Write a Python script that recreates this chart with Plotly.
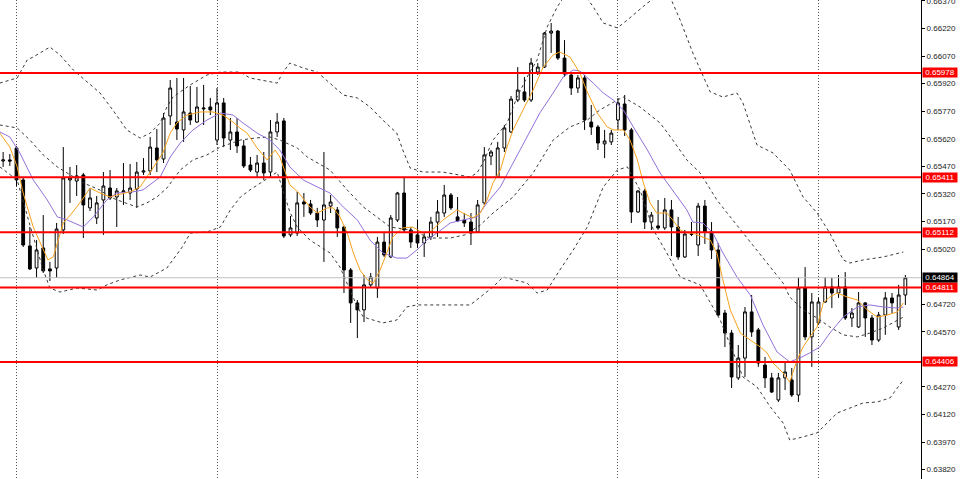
import plotly.graph_objects as go

# ---------------- data ----------------
bars = list(range(136))

opens = [0.65499, 0.65505, 0.65570, 0.65396, 0.65037, 0.64917, 0.65026, 0.64912, 0.64917, 0.65124,
         0.65396, 0.65390, 0.65423, 0.65244, 0.65189, 0.65287, 0.65352, 0.65303, 0.65331, 0.65325,
         0.65347, 0.65439, 0.65445, 0.65570, 0.65510, 0.65744, 0.65711, 0.65668, 0.65760, 0.65711,
         0.65782, 0.65793, 0.65613, 0.65815, 0.65613, 0.65657, 0.65581, 0.65477, 0.65439, 0.65488,
         0.65439, 0.65657, 0.65717, 0.65097, 0.65107, 0.65276, 0.65265, 0.65216, 0.65178, 0.65254,
         0.65233, 0.65140, 0.64906, 0.64727, 0.64689, 0.64825, 0.64808, 0.65058, 0.64977, 0.65178,
         0.65325, 0.65124, 0.65097, 0.65053, 0.65086, 0.65167, 0.65216, 0.65314, 0.65195, 0.65178,
         0.65167, 0.65113, 0.65271, 0.65526, 0.65412, 0.65570, 0.65657, 0.65831, 0.65875, 0.65831,
         0.65983, 0.66010, 0.66195, 0.66206, 0.66059, 0.65967, 0.65896, 0.65951, 0.65711, 0.65684,
         0.65592, 0.65603, 0.65722, 0.65809, 0.65668, 0.65222, 0.65336, 0.65167, 0.65146, 0.65135,
         0.65233, 0.65140, 0.64977, 0.65102, 0.65042, 0.65254, 0.65113, 0.65015, 0.64672, 0.64563,
         0.64319, 0.64427, 0.64678, 0.64580, 0.64389, 0.64319, 0.64199, 0.64319, 0.64308, 0.64226,
         0.64808, 0.64542, 0.64618, 0.64732, 0.64814, 0.64781, 0.64814, 0.64645, 0.64596, 0.64727,
         0.64645, 0.64525, 0.64661, 0.64754, 0.64596, 0.64770]

highs = [0.65548, 0.65537, 0.65581, 0.65407, 0.65140, 0.65069, 0.65205, 0.64950, 0.65162, 0.65575,
         0.65467, 0.65477, 0.65434, 0.65352, 0.65309, 0.65439, 0.65450, 0.65352, 0.65488, 0.65483,
         0.65494, 0.65515, 0.65630, 0.65673, 0.65760, 0.65940, 0.65951, 0.65951, 0.65907, 0.65902,
         0.65913, 0.65842, 0.65896, 0.65842, 0.65733, 0.65733, 0.65613, 0.65521, 0.65532, 0.65548,
         0.65722, 0.65760, 0.65733, 0.65200, 0.65331, 0.65325, 0.65287, 0.65244, 0.65548, 0.65314,
         0.65249, 0.65146, 0.64917, 0.64743, 0.64879, 0.64890, 0.65086, 0.65107, 0.65205, 0.65331,
         0.65407, 0.65140, 0.65178, 0.65107, 0.65195, 0.65287, 0.65369, 0.65325, 0.65303, 0.65216,
         0.65216, 0.65287, 0.65575, 0.65559, 0.65603, 0.65695, 0.65853, 0.66010, 0.65956, 0.66059,
         0.66032, 0.66201, 0.66250, 0.66212, 0.66157, 0.65983, 0.65967, 0.65967, 0.65804, 0.65695,
         0.65668, 0.65668, 0.65842, 0.65858, 0.65679, 0.65341, 0.65347, 0.65222, 0.65287, 0.65298,
         0.65287, 0.65195, 0.65124, 0.65167, 0.65271, 0.65287, 0.65167, 0.65053, 0.64689, 0.64580,
         0.64498, 0.64705, 0.64770, 0.64591, 0.64433, 0.64346, 0.64346, 0.64406, 0.64373, 0.64868,
         0.64922, 0.64781, 0.64754, 0.64868, 0.64863, 0.64879, 0.64895, 0.64699, 0.64786, 0.64732,
         0.64661, 0.64678, 0.64786, 0.64781, 0.64825, 0.64879]

lows = [0.65467, 0.65472, 0.65363, 0.65031, 0.64906, 0.64863, 0.64890, 0.64846, 0.64863, 0.65102,
        0.65271, 0.65309, 0.65080, 0.65227, 0.65156, 0.65097, 0.65287, 0.65140, 0.65260, 0.65287,
        0.65244, 0.65423, 0.65423, 0.65439, 0.65488, 0.65695, 0.65613, 0.65603, 0.65695, 0.65706,
        0.65695, 0.65749, 0.65586, 0.65575, 0.65559, 0.65543, 0.65461, 0.65439, 0.65407, 0.65396,
        0.65407, 0.65630, 0.65080, 0.65086, 0.65091, 0.65195, 0.65205, 0.65140, 0.64950, 0.65216,
        0.65086, 0.64781, 0.64618, 0.64536, 0.64623, 0.64814, 0.64754, 0.64977, 0.64971, 0.65167,
        0.65113, 0.65026, 0.65026, 0.64977, 0.65069, 0.65086, 0.65195, 0.65233, 0.65167, 0.65140,
        0.65042, 0.65107, 0.65260, 0.65477, 0.65412, 0.65548, 0.65651, 0.65820, 0.65820, 0.65820,
        0.65967, 0.66005, 0.66087, 0.66049, 0.65956, 0.65858, 0.65869, 0.65668, 0.65641, 0.65559,
        0.65515, 0.65586, 0.65668, 0.65635, 0.65162, 0.65216, 0.65129, 0.65124, 0.65124, 0.65124,
        0.64982, 0.64961, 0.64971, 0.65091, 0.64982, 0.65048, 0.64966, 0.64656, 0.64487, 0.64264,
        0.64308, 0.64324, 0.64542, 0.64379, 0.64264, 0.64237, 0.64188, 0.64253, 0.64215, 0.64188,
        0.64525, 0.64379, 0.64607, 0.64727, 0.64699, 0.64754, 0.64634, 0.64596, 0.64591, 0.64542,
        0.64498, 0.64515, 0.64553, 0.64672, 0.64580, 0.64716]

closes = [0.65505, 0.65499, 0.65396, 0.65042, 0.64912, 0.65015, 0.64901, 0.64901, 0.65129, 0.65407,
          0.65407, 0.65418, 0.65260, 0.65298, 0.65271, 0.65363, 0.65298, 0.65336, 0.65336, 0.65352,
          0.65439, 0.65445, 0.65575, 0.65505, 0.65733, 0.65896, 0.65673, 0.65766, 0.65722, 0.65793,
          0.65787, 0.65777, 0.65815, 0.65624, 0.65657, 0.65581, 0.65472, 0.65450, 0.65488, 0.65434,
          0.65657, 0.65711, 0.65091, 0.65135, 0.65271, 0.65265, 0.65216, 0.65178, 0.65260, 0.65276,
          0.65135, 0.64906, 0.64727, 0.64689, 0.64825, 0.64868, 0.65058, 0.64988, 0.65189, 0.65325,
          0.65124, 0.65058, 0.65053, 0.65086, 0.65167, 0.65222, 0.65314, 0.65244, 0.65173, 0.65162,
          0.65107, 0.65260, 0.65532, 0.65548, 0.65570, 0.65679, 0.65836, 0.65885, 0.65831, 0.66032,
          0.66010, 0.66195, 0.66206, 0.66059, 0.65972, 0.65896, 0.65951, 0.65722, 0.65684, 0.65597,
          0.65608, 0.65651, 0.65815, 0.65668, 0.65222, 0.65336, 0.65167, 0.65205, 0.65135, 0.65233,
          0.65140, 0.64977, 0.65102, 0.65100, 0.65254, 0.65113, 0.65015, 0.64661, 0.64563, 0.64324,
          0.64427, 0.64678, 0.64569, 0.64400, 0.64319, 0.64242, 0.64319, 0.64351, 0.64226, 0.64808,
          0.64542, 0.64732, 0.64732, 0.64814, 0.64781, 0.64814, 0.64645, 0.64672, 0.64727, 0.64645,
          0.64525, 0.64661, 0.64754, 0.64727, 0.64770, 0.64864]

# fast moving average (orange)
fast_x = [-0.5, 1.0, 2.1, 3.0, 4.5, 5.8, 6.7, 7.5, 8.2, 9.0, 10.3, 11.8, 13.0, 14.5, 16.0, 17.0, 19.0, 20.5,
          22.0, 23.9, 25.0, 26.0, 27.5, 29.5, 31.4, 32.9, 34.4, 35.4, 36.5, 38.0, 39.5, 40.7, 41.4, 42.9,
          44.1, 45.9, 47.0, 48.5, 49.4, 50.4, 51.5, 52.4, 53.4, 54.5, 55.4, 56.4, 57.4, 58.3, 59.8, 61.3,
          62.8, 63.9, 65.8, 67.9, 68.8, 70.3, 71.4, 72.4, 73.3, 74.4, 75.4, 76.3, 77.8, 79.3, 80.8, 82.3,
          83.3, 84.8, 86.3, 87.4, 88.9, 90.4, 91.3, 92.8, 93.8, 94.9, 95.8, 96.8, 97.8, 99.3, 100.2, 101.3,
          102.3, 103.2, 105.8, 106.8, 107.7, 108.8, 110.3, 111.8, 113.3, 114.3, 115.2, 116.7, 117.7, 118.8,
          119.7, 120.7, 121.8, 122.7, 123.7, 124.8, 126.3, 127.8, 129.3, 130.8, 132.3, 133.8, 134.7]
fast_y = [0.65651, 0.65575, 0.65467, 0.65325, 0.65140, 0.65031, 0.64961, 0.64977, 0.65069, 0.65162, 0.65216,
          0.65287, 0.65352, 0.65325, 0.65303, 0.65314, 0.65331, 0.65358, 0.65439, 0.65543, 0.65651, 0.65706,
          0.65749, 0.65766, 0.65766, 0.65749, 0.65711, 0.65679, 0.65651, 0.65570, 0.65505, 0.65559, 0.65521,
          0.65369, 0.65331, 0.65249, 0.65216, 0.65244, 0.65244, 0.65195, 0.65107, 0.64999, 0.64906, 0.64852,
          0.64835, 0.64906, 0.64999, 0.65086, 0.65135, 0.65140, 0.65107, 0.65113, 0.65178, 0.65233, 0.65216,
          0.65189, 0.65216, 0.65287, 0.65380, 0.65450, 0.65575, 0.65668, 0.65777, 0.65885, 0.66010, 0.66076,
          0.66092, 0.66065, 0.65978, 0.65875, 0.65760, 0.65684, 0.65668, 0.65668, 0.65613, 0.65505, 0.65380,
          0.65271, 0.65216, 0.65216, 0.65178, 0.65124, 0.65107, 0.65107, 0.65069, 0.64999, 0.64852, 0.64689,
          0.64563, 0.64525, 0.64487, 0.64455, 0.64400, 0.64346, 0.64297, 0.64417, 0.64487, 0.64542, 0.64596,
          0.64727, 0.64759, 0.64781, 0.64759, 0.64743, 0.64689, 0.64650, 0.64661, 0.64678, 0.64727]

# slow moving average (purple)
slow_x = [-0.5, 1.0, 2.5, 4.5, 6.6, 8.1, 9.6, 12.0, 13.5, 15.5, 17.0, 19.4, 20.9, 23.5, 25.0, 26.5, 28.4, 30.5,
          32.5, 34.4, 35.9, 38.0, 39.9, 41.4, 42.9, 44.9, 47.0, 48.9, 50.9, 53.0, 54.9, 56.8, 58.9, 60.4,
          61.9, 63.4, 64.9, 66.9, 68.8, 70.9, 72.4, 74.4, 76.3, 78.4, 80.3, 82.3, 83.8, 85.3, 86.3, 88.3,
          89.8, 91.3, 92.8, 94.3, 96.4, 98.3, 100.2, 102.3, 103.2, 104.7, 106.2, 107.7, 109.8, 111.8, 113.7,
          115.8, 117.7, 119.2, 120.7, 122.2, 123.7, 125.7, 127.8, 129.7, 131.7, 133.8, 134.7]
slow_y = [0.65657, 0.65630, 0.65543, 0.65396, 0.65287, 0.65195, 0.65178, 0.65140, 0.65195, 0.65287, 0.65325,
          0.65331, 0.65341, 0.65412, 0.65521, 0.65597, 0.65668, 0.65722, 0.65760, 0.65749, 0.65706, 0.65651,
          0.65613, 0.65559, 0.65467, 0.65396, 0.65358, 0.65325, 0.65249, 0.65178, 0.65069, 0.64999, 0.64971,
          0.64971, 0.65015, 0.65069, 0.65107, 0.65162, 0.65178, 0.65195, 0.65271, 0.65358, 0.65488, 0.65630,
          0.65760, 0.65869, 0.65956, 0.65994, 0.65989, 0.65923, 0.65869, 0.65831, 0.65777, 0.65684, 0.65559,
          0.65434, 0.65341, 0.65233, 0.65167, 0.65162, 0.65107, 0.64999, 0.64868, 0.64770, 0.64607, 0.64460,
          0.64406, 0.64427, 0.64455, 0.64487, 0.64563, 0.64650, 0.64705, 0.64716, 0.64705, 0.64699, 0.64705]

# Bollinger bands (upper / middle / lower)
bbu_x = [-0.5, 2.1, 3.6, 4.5, 7.0, 8.5, 10.5, 12.6, 14.5, 16.4, 18.5, 20.5, 22.0, 23.5, 24.5, 25.4, 28.0, 30.5,
         32.5, 35.5, 36.9, 41.0, 41.9, 42.9, 44.9, 47.0, 48.9, 50.9, 53.0, 54.9, 56.8, 58.9, 59.8, 60.9, 62.8,
         65.8, 69.9, 70.9, 71.8, 73.3, 75.4, 76.9, 78.4, 79.9, 81.4, 82.9, 84.4, 86.3, 88.3, 89.8, 91.9, 93.4,
         96.4, 98.3, 99.8, 101.3, 103.2, 104.3, 105.8, 107.7, 109.8, 110.7, 112.8, 115.2, 117.7, 119.7, 121.8,
         123.7, 125.7, 126.7, 128.7, 131.7, 134.7]
bbu_y = [0.65923, 0.65951, 0.66049, 0.66065, 0.66119, 0.66076, 0.65994, 0.65929, 0.65869, 0.65777, 0.65668,
         0.65624, 0.65651, 0.65706, 0.65793, 0.65847, 0.65913, 0.65967, 0.65983, 0.65983, 0.65951, 0.65923,
         0.65983, 0.66032, 0.66005, 0.65983, 0.65923, 0.65858, 0.65842, 0.65793, 0.65722, 0.65651, 0.65559,
         0.65461, 0.65439, 0.65439, 0.65412, 0.65434, 0.65488, 0.65613, 0.65706, 0.65847, 0.65956, 0.66049,
         0.66228, 0.66337, 0.66419, 0.66440, 0.66337, 0.66250, 0.66223, 0.66266, 0.66359, 0.66402, 0.66391,
         0.66266, 0.66087, 0.65994, 0.65875, 0.65847, 0.65869, 0.65815, 0.65586, 0.65543, 0.65450, 0.65303,
         0.65216, 0.65107, 0.64961, 0.64944, 0.64961, 0.64977, 0.65004]

bbm_x = [-0.5, 2.1, 4.0, 6.0, 8.1, 9.6, 12.0, 14.5, 16.0, 17.9, 20.0, 21.5, 23.0, 24.5, 26.5, 28.4, 30.5, 32.5,
         35.5, 37.7, 39.9, 41.4, 44.0, 45.5, 48.9, 51.5, 53.9, 55.9, 57.9, 60.9, 63.9, 66.9, 69.1, 71.4, 73.3,
         76.3, 79.3, 82.3, 84.8, 87.4, 89.3, 91.9, 92.8, 95.3, 98.3, 100.2, 102.3, 104.3, 106.8, 108.8, 110.7,
         112.8, 114.8, 116.7, 117.7, 119.7, 121.8, 123.7, 125.7, 127.8, 129.7, 131.7, 134.7]
bbm_y = [0.65695, 0.65679, 0.65613, 0.65532, 0.65467, 0.65434, 0.65380, 0.65341, 0.65303, 0.65276, 0.65249,
         0.65271, 0.65303, 0.65352, 0.65450, 0.65505, 0.65532, 0.65575, 0.65613, 0.65624, 0.65630, 0.65613,
         0.65570, 0.65521, 0.65450, 0.65341, 0.65249, 0.65195, 0.65140, 0.65124, 0.65080, 0.65080, 0.65097,
         0.65151, 0.65216, 0.65303, 0.65434, 0.65613, 0.65684, 0.65722, 0.65777, 0.65831, 0.65847, 0.65793,
         0.65706, 0.65613, 0.65505, 0.65434, 0.65287, 0.65195, 0.65107, 0.65015, 0.64922, 0.64835, 0.64759,
         0.64689, 0.64645, 0.64596, 0.64553, 0.64542, 0.64563, 0.64591, 0.64650]

bbl_x = [-0.5, 2.1, 4.0, 6.0, 7.0, 8.5, 11.1, 14.1, 15.5, 17.5, 20.5, 22.0, 24.5, 25.4, 26.8, 28.0, 30.5, 32.5,
         34.0, 35.5, 36.9, 39.2, 41.0, 42.9, 44.0, 45.9, 48.9, 50.4, 53.0, 53.9, 56.8, 58.9, 60.4, 61.9, 65.8,
         69.9, 71.4, 73.3, 74.8, 78.4, 79.9, 81.4, 83.3, 85.3, 87.4, 89.8, 91.9, 93.4, 95.3, 97.3, 99.3, 101.3,
         104.3, 107.3, 110.7, 112.8, 114.8, 116.7, 117.7, 119.7, 121.8, 122.7, 124.8, 126.7, 128.7, 130.8,
         132.7, 134.7]
bbl_y = [0.65467, 0.65396, 0.65151, 0.64906, 0.64808, 0.64786, 0.64808, 0.64797, 0.64825, 0.64852, 0.64879,
         0.64868, 0.64917, 0.64961, 0.65031, 0.65107, 0.65113, 0.65140, 0.65233, 0.65303, 0.65341, 0.65396,
         0.65439, 0.65222, 0.65140, 0.65069, 0.64999, 0.64922, 0.64705, 0.64650, 0.64618, 0.64634, 0.64705,
         0.64716, 0.64716, 0.64716, 0.64759, 0.64814, 0.64868, 0.64835, 0.64781, 0.64797, 0.64906, 0.65015,
         0.65140, 0.65358, 0.65450, 0.65467, 0.65341, 0.65124, 0.64999, 0.64868, 0.64825, 0.64634, 0.64324,
         0.64270, 0.64161, 0.64074, 0.63981, 0.63998, 0.64020, 0.64052, 0.64128, 0.64155, 0.64183, 0.64188,
         0.64210, 0.64308]

levels = [0.65978, 0.65411, 0.65112, 0.64811, 0.64406]
bid = 0.64864
price_ticks = [0.66370, 0.66220, 0.66070, 0.65920, 0.65770, 0.65620, 0.65470, 0.65320, 0.65170,
               0.65020, 0.64720, 0.64570, 0.64270, 0.64120, 0.63970, 0.63820]
grid_bars = [2, 32, 62, 92, 122]

# ---------------- figure ----------------
fig = go.Figure()

fig.add_trace(go.Candlestick(
    x=bars, open=opens, high=highs, low=lows, close=closes,
    increasing=dict(line=dict(color="#000000", width=1), fillcolor="#ffffff"),
    decreasing=dict(line=dict(color="#000000", width=1), fillcolor="#000000"),
    whiskerwidth=0, showlegend=False, hoverinfo="skip"))

band_style = dict(color="#3a3a3a", width=1, dash="3px,3px")
for bx, by in ((bbu_x, bbu_y), (bbm_x, bbm_y), (bbl_x, bbl_y)):
    fig.add_trace(go.Scatter(x=bx, y=by, mode="lines", line=band_style,
                             showlegend=False, hoverinfo="skip"))

fig.add_trace(go.Scatter(x=slow_x, y=slow_y, mode="lines",
                         line=dict(color="#9370db", width=1), showlegend=False, hoverinfo="skip"))
fig.add_trace(go.Scatter(x=fast_x, y=fast_y, mode="lines",
                         line=dict(color="#f7a21b", width=1), showlegend=False, hoverinfo="skip"))

shapes = [dict(type="line", xref="paper", x0=0, x1=1, yref="y", y0=bid, y1=bid,
               line=dict(color="#c0c0c0", width=1), layer="above")]
for lv in levels:
    shapes.append(dict(type="line", xref="paper", x0=0, x1=1, yref="y", y0=lv, y1=lv,
                       line=dict(color="#ff0000", width=2), layer="above"))

label_font = dict(family="Liberation Sans, Arial", size=8, color="#ffffff")
annotations = []
for lv in levels:
    annotations.append(dict(xref="paper", x=1, xanchor="left", xshift=1, yref="y", y=lv,
                            text=f"{lv:.5f}", showarrow=False, bgcolor="#ff0000",
                            font=label_font, width=34, height=9, borderpad=0))
annotations.append(dict(xref="paper", x=1, xanchor="left", xshift=1, yref="y", y=bid,
                        text=f"{bid:.5f}", showarrow=False, bgcolor="#000000",
                        font=label_font, width=34, height=9, borderpad=0))

fig.update_layout(
    width=960, height=479,
    margin=dict(l=0, r=39, t=0, b=0),
    paper_bgcolor="#ffffff", plot_bgcolor="#ffffff",
    boxgap=0.4,
    shapes=shapes, annotations=annotations,
    xaxis=dict(range=[-0.47, 137.34], rangeslider=dict(visible=False),
               tickvals=grid_bars, showticklabels=False, ticks="",
               showgrid=True, gridcolor="#555555", griddash="1px,2px", gridwidth=1,
               zeroline=False, showline=False, fixedrange=True),
    yaxis=dict(range=[0.63769, 0.66375], side="right", tickvals=price_ticks,
               tickformat=".5f", ticks="outside", ticklen=3, tickcolor="#000000",
               tickfont=dict(family="Liberation Sans, Arial", size=8, color="#222222"),
               ticklabeloverflow="allow",
               showgrid=False, zeroline=False, showline=True, linecolor="#000000",
               linewidth=1, fixedrange=True, automargin=False),
)

fig.write_html("out.html",
               config={"displayModeBar": False, "staticPlot": True},
               post_script="document.body.style.margin='0px';document.body.style.padding='0px';"
                           "document.body.style.overflow='hidden';")
